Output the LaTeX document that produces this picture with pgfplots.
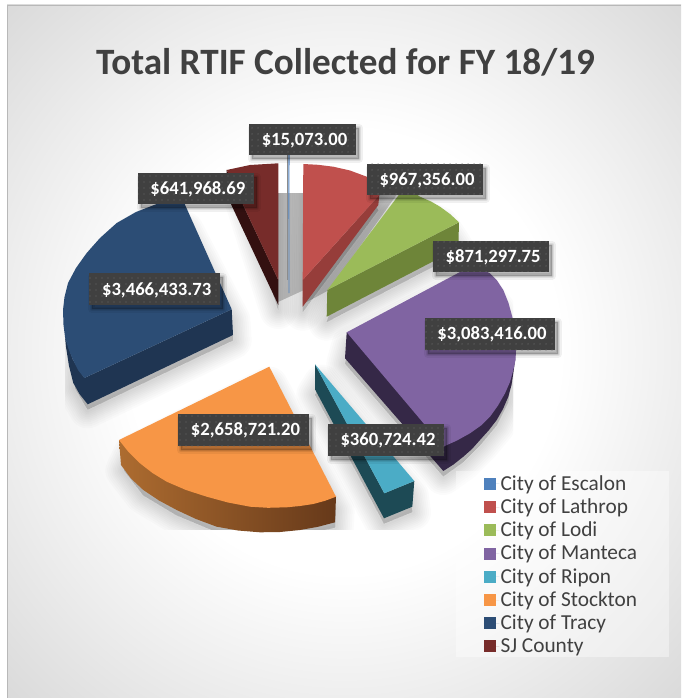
\documentclass[border=0pt]{standalone}
\usepackage{fontspec}
\setmainfont{Carlito}
\usepackage{pgfplots}
\usepackage{pgfplotstable}
\usetikzlibrary{patterns.meta}
\pgfplotsset{compat=1.18}
\definecolor{cEsc}{HTML}{4F81BD}\definecolor{cLat}{HTML}{C0504D}\definecolor{cLod}{HTML}{9BBB59}
\definecolor{cMan}{HTML}{8064A2}\definecolor{cRip}{HTML}{4BACC6}\definecolor{cSto}{HTML}{F79646}
\definecolor{cTra}{HTML}{2C4D75}\definecolor{cSJ}{HTML}{772C2A}
\definecolor{sLat}{HTML}{963D3A}\definecolor{sLod}{HTML}{6E8539}\definecolor{sMan}{HTML}{352847}
\definecolor{sRip}{HTML}{1D4A55}\definecolor{sTra}{HTML}{1F3552}\definecolor{sSJ}{HTML}{331010}
\definecolor{sStoA}{HTML}{AD6C30}\definecolor{sStoB}{HTML}{66391A}
\definecolor{txt}{HTML}{404040}
\pgfdeclareradialshading{chartbg}{\pgfpoint{0bp}{0bp}}{color(0bp)=(white);color(16bp)=(white);color(25.5bp)=(white!93!black);color(34.7bp)=(white!86!black);color(50bp)=(white!75!black);color(72bp)=(white!75!black)}
% shadow silhouettes (px), kept inside the slices on their upper sides
\pgfplotstableread{
x y
185 225
165 225
130 240
100 265
85 290
80 315
78 340
75 383
87.7 404.3
233 335
231.7 315
}\shTra
\pgfplotstableread{
x y
240 185
278.3 185
278.3 305
}\shSJ
\pgfplotstableread{
x y
305 185
366.7 185
378.3 205
302.7 306.7
}\shLat
\pgfplotstableread{
x y
335 292
400 210
420 212
440 220
450 235
458.3 248.3
326.7 316.7
}\shLod
\pgfplotstableread{
x y
350 340
470 280
485 290
497 305
505 325
509 350
511 373.3
508.3 396.7
496.7 420
480 440
463.3 456.7
443.3 471
345 358.3
}\shMan
\pgfplotstableread{
x y
322 378
410 490
412.3 506.7
384 518.3
315 389.3
}\shRip
\pgfplotstableread{
x y
269.3 380
132 448
124 465
143.3 490
176.7 510
216.7 526.7
260 532.3
300 530
335 522.3
336 505
}\shSto
\newcommand\shadl[2]{\addplot[fill=black,draw=black,line join=round,opacity=.017,line width=#2pt,yshift=-4pt] table {#1} -- cycle;}
\newcommand\shad[1]{\shadl{#1}{28}\shadl{#1}{25}\shadl{#1}{22}\shadl{#1}{19}\shadl{#1}{16.5}\shadl{#1}{14}\shadl{#1}{11.5}\shadl{#1}{9}\shadl{#1}{6.5}\shadl{#1}{4}}
\newcommand\lbl[5]{%
 \addplot[fill=black,draw=black,line join=round,opacity=.06,line width=6pt,forget plot] coordinates {(#1+3,#2+4) (#3+3,#2+4) (#3+3,#4+4) (#1+3,#4+4)} -- cycle;
 \addplot[fill=black,draw=black,line join=round,opacity=.08,line width=3.5pt,forget plot] coordinates {(#1+3,#2+4) (#3+3,#2+4) (#3+3,#4+4) (#1+3,#4+4)} -- cycle;
 \addplot[fill=black,draw=black,line join=round,opacity=.10,line width=1.5pt,forget plot] coordinates {(#1+3,#2+4) (#3+3,#2+4) (#3+3,#4+4) (#1+3,#4+4)} -- cycle;
 \addplot[fill=txt,draw=none,forget plot] coordinates {(#1,#2) (#3,#2) (#3,#4) (#1,#4)} -- cycle;
 \addplot[draw=none,pattern={Dots[distance=4.5pt,radius=.55pt]},pattern color=white!22!txt,forget plot] coordinates {(#1,#2) (#3,#2) (#3,#4) (#1,#4)} -- cycle;
 \node[text=white,font=\bfseries\fontsize{14}{16}\selectfont] at (axis cs:{(#1+#3)/2+2},{(#2+#4)/2+0.8}) {#5};
}
\pgfplotsset{px/.style={scale only axis,axis lines=none,y dir=reverse,anchor=south west}}
\begin{document}
\begin{tikzpicture}
% background
\begin{axis}[px,at={(0pt,0pt)},width=510.75pt,height=523.5pt,xmin=0,xmax=681,ymin=0,ymax=698]
\addplot[fill=white,draw=none] coordinates {(0,0)(681,0)(681,698)(0,698)} -- cycle;
\addplot[shade,shading=chartbg,draw=none] coordinates {(7,5)(681,5)(681,698)(7,698)(7,5)};
\addplot[draw=white!72!black,line width=.9pt] coordinates {(7.5,698)(7.5,5.5)(681,5.5)};
\end{axis}
% shadows, clipped to the plot area
\begin{axis}[px,at={(48.75pt,126.75pt)},width=336pt,height=251.25pt,xmin=65,xmax=513,ymin=194,ymax=529]
\addplot[fill=white!80!black,draw=none] coordinates {(278,190)(304,190)(304,290)(278,302)} -- cycle;
\addplot[fill=white!80!black,draw=none] coordinates {(376,190)(400,190)(329,290)(303,304)} -- cycle;
\shad{\shTra}\shad{\shSJ}\shad{\shLat}\shad{\shLod}\shad{\shMan}\shad{\shRip}\shad{\shSto}
\end{axis}
% pie, labels, legend
\begin{axis}[px,at={(0pt,0pt)},width=510.75pt,height=523.5pt,xmin=0,xmax=681,ymin=0,ymax=698,
  legend style={at={(axis cs:481,471)},anchor=north west,draw=none,fill=none,row sep=2.9pt,
    font=\fontsize{16}{17}\selectfont,text=txt,inner sep=2pt,
    legend cell align=left,nodes={inner sep=1pt}},
  legend image code/.code={\fill[#1] (0pt,-4.5pt) rectangle (9pt,4.5pt);\path (0pt,0pt) -- (11.5pt,0pt);}]
\addplot[fill=white,fill opacity=.4,draw=none,forget plot] coordinates {(456,471)(669,471)(669,656.7)(456,656.7)} -- cycle;
% City of Escalon
\addplot[fill=white!55!black,draw=none,forget plot] coordinates {(287.4,155)(288.2,155)(288.2,280)(287.4,280)} -- cycle;
\addplot[fill=cEsc,draw=none] coordinates {(288.4,155)(289.5,155)(289.4,293)(288.6,293)} -- cycle;
% City of Lathrop
\addplot[fill=sLat,draw=none,forget plot] coordinates {(302.7,280)(302.7,306.7)(378.3,205)(379.3,195)} -- cycle;
\addplot[fill=cLat,draw=none] coordinates {(303.3,164)(318,164.8)(333.3,166.7)(350,170.5)(366.7,176.7)(379.3,195)(302.7,280)} -- cycle;
% City of Lodi
\addplot[fill=sLod,draw=none,forget plot] coordinates {(327.3,290)(326.7,316.7)(458.3,248.3)(459,222.3)} -- cycle;
\addplot[fill=cLod,draw=none] coordinates {(327.3,290)(405,186.7)(420,196.7)(431,201.5)(440,206.7)(450,214)(459,222.3)} -- cycle;
% City of Manteca
\addplot[fill=sMan,draw=none,forget plot] coordinates {(346.7,332.3)(345,358.3)(443.3,471)(453.5,464.5)(463.3,456.7)(472,449)(480,440)(489,430)(496.7,420)(503,409)(508.3,396.7)(511.5,385)(513.3,373.3)(515,361)(515.5,350)} -- cycle;
\addplot[fill=cMan,draw=none] coordinates {(346.7,332.3)(470,266.7)(480,268.5)(490,273.3)(497,280.5)(503.3,290)(508.5,303)(512.7,318.3)(515,334)(516,350)(515.5,360)(513.3,370)(510,382)(505,393.3)(498,405.5)(490,416.7)(481,425.5)(470,433.3)(457,440.5)(443.3,446.7)} -- cycle;
% City of Ripon
\addplot[fill=sRip,draw=none,forget plot] coordinates {(315,364.3)(315,389.3)(384,518.3)(412.3,506.7)(414.3,481)(384.3,493.3)} -- cycle;
\addplot[fill=cRip,draw=none] coordinates {(315,364.3)(414.3,481)(384.3,493.3)} -- cycle;
% City of Stockton
\addplot[left color=sStoA,middle color=sStoB,right color=sStoB,draw=none,forget plot] coordinates {(119,440)(121,465)(131,478.5)(143.3,490)(159,500.5)(176.7,510)(196,519)(216.7,526.7)(238,530.5)(260,532.3)(280,532)(300,530)(318,526.8)(335,522.3)(336,496.7)} -- cycle;
\addplot[fill=cSto,draw=none] coordinates {(269.3,366.7)(119,440)(128.5,452)(140,463.3)(152.5,473)(166.7,481.7)(186,490)(206.7,496.7)(228,502.5)(250,506.7)(268,507.8)(286.7,507.3)(300,506)(313.3,504)(325,500.8)(336,496.7)} -- cycle;
% City of Tracy
\addplot[fill=sTra,draw=none,forget plot] coordinates {(231.7,309.3)(233,335)(87.7,404.3)(79.5,394)(73.3,383)(69,366)(66,347)(65,337)(73,360)(84.3,378)} -- cycle;
\addplot[fill=cTra,draw=none] coordinates {(231.7,309.3)(182,198)(170,200)(156.7,204)(136,212)(116.7,223)(100,238)(86.7,253)(76,268)(68,283)(64.5,297)(63,310)(63.5,325)(65,337)(68.5,349)(73,360)(78,370)(84.3,378)} -- cycle;
% SJ County
\addplot[fill=sSJ,draw=none,forget plot] coordinates {(226.7,170)(226.7,195)(278.3,305)(278.3,280)} -- cycle;
\addplot[fill=cSJ,draw=none] coordinates {(226.7,170)(250,165)(278.3,163.3)(278.3,280)} -- cycle;
\legend{City of Escalon,City of Lathrop,City of Lodi,City of Manteca,City of Ripon,City of Stockton,City of Tracy,SJ County}
\lbl{249}{124}{356}{155}{\$15,073.00}
\lbl{138}{173.3}{253.7}{203.7}{\$641,968.69}
\lbl{89.3}{273.3}{220}{305}{\$3,466,433.73}
\lbl{367.3}{164}{482.7}{195}{\$967,356.00}
\lbl{433.3}{241}{549}{271.7}{\$871,297.75}
\lbl{425}{318}{555}{350}{\$3,083,416.00}
\lbl{328}{424}{444}{455.7}{\$360,724.42}
\lbl{178}{414}{309}{446}{\$2,658,721.20}
\node[text=txt,font=\bfseries\fontsize{27.9}{30}\selectfont] at (axis cs:345.5,62) {Total RTIF Collected for FY 18/19};
\end{axis}
\end{tikzpicture}
\end{document}
